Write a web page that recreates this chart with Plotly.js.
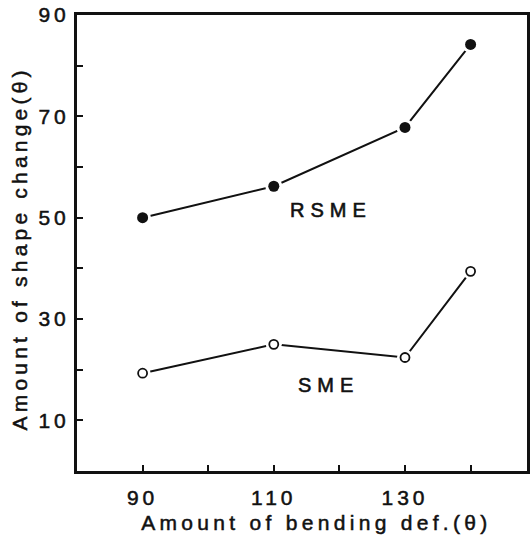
<!DOCTYPE html>
<html>
<head>
<meta charset="utf-8">
<script src="https://cdn.plot.ly/plotly-3.0.1.min.js"></script>
<style>
  html, body { margin: 0; padding: 0; background: #fff; }
  #chart { width: 532px; height: 541px; }
  .xtick text, .ytick text { letter-spacing: 4px; stroke: #111; stroke-width: 0.5px; }
  .annotation-text { stroke: #111; stroke-width: 0.5px; }
  .annotation[data-index="0"] .annotation-text, .annotation[data-index="1"] .annotation-text { letter-spacing: 6px; stroke-width: 0.6px; }
  .annotation[data-index="2"] .annotation-text { letter-spacing: 4.3px; }
  .annotation[data-index="3"] .annotation-text { letter-spacing: 4.2px; }
</style>
</head>
<body>
<div id="chart"></div>
<script>
// Data
const bendingDef = [90, 110, 130, 140];
const rsmeValues = [50, 56.2, 67.8, 84.2];
const smeValues  = [19.3, 25, 22.4, 39.4];

const xTickVals = [90, 100, 110, 120, 130, 140];
const xTickText = ['90', '', '110', '', '130', ''];
const yTickVals = [10, 20, 30, 40, 50, 60, 70, 80, 90];
const yTickText = ['10', '', '30', '', '50', '', '70', '', '90'];

const seriesLabels = ['RSME', 'SME'];
const xTitle = 'Amount of bending def.(θ)';
const yTitle = 'Amount of shape change(θ)';

const ink = '#111';
const fontFam = 'Liberation Sans, Arial, sans-serif';

const traces = [
  // connecting lines
  { x: bendingDef, y: rsmeValues, mode: 'lines', line: { color: ink, width: 2 }, hoverinfo: 'skip', showlegend: false },
  { x: bendingDef, y: smeValues, mode: 'lines', line: { color: ink, width: 2 }, hoverinfo: 'skip', showlegend: false },
  // white masks giving the gap between lines and markers
  { x: bendingDef, y: rsmeValues, mode: 'markers', marker: { symbol: 'circle', size: 17, color: '#fff' }, hoverinfo: 'skip', showlegend: false },
  { x: bendingDef, y: smeValues, mode: 'markers', marker: { symbol: 'circle', size: 16, color: '#fff' }, hoverinfo: 'skip', showlegend: false },
  // actual markers
  { x: bendingDef, y: rsmeValues, mode: 'markers', name: seriesLabels[0],
    marker: { symbol: 'circle', size: 11, color: ink } , showlegend: false },
  { x: bendingDef, y: smeValues, mode: 'markers', name: seriesLabels[1],
    marker: { symbol: 'circle-open', size: 9, color: ink, line: { width: 1.8, color: ink } }, showlegend: false }
];

const layout = {
  width: 532, height: 541,
  margin: { l: 77, r: 5, t: 15, b: 70 },
  paper_bgcolor: '#fff', plot_bgcolor: '#fff',
  font: { family: fontFam, color: ink, size: 21 },
  showlegend: false,
  xaxis: {
    range: [80, 148.6],
    tickvals: xTickVals, ticktext: xTickText,
    ticks: 'inside', ticklen: 6, tickwidth: 2, tickcolor: ink,
    showline: true, linewidth: 3, linecolor: ink, mirror: true,
    showgrid: false, zeroline: false,
    tickfont: { size: 21 },
    ticklabelstandoff: 6
  },
  yaxis: {
    range: [0, 90],
    tickvals: yTickVals, ticktext: yTickText,
    ticks: 'inside', ticklen: 6, tickwidth: 2, tickcolor: ink,
    showline: true, linewidth: 3, linecolor: ink, mirror: true,
    showgrid: false, zeroline: false,
    tickfont: { size: 21 },
    ticklabelstandoff: 0
  },
  annotations: [
    { x: 118.7, y: 51.5, xref: 'x', yref: 'y', text: seriesLabels[0], showarrow: false,
      font: { size: 20, family: fontFam } },
    { x: 118.3, y: 17.0, xref: 'x', yref: 'y', text: seriesLabels[1], showarrow: false,
      font: { size: 20, family: fontFam } },
    { x: 0.533, y: -0.112, xref: 'paper', yref: 'paper', xanchor: 'center', yanchor: 'middle',
      text: xTitle, showarrow: false, font: { size: 21, family: fontFam } },
    { x: -0.129, y: 0.489, xref: 'paper', yref: 'paper', xanchor: 'center', yanchor: 'middle',
      textangle: -90, text: yTitle, showarrow: false, font: { size: 21, family: fontFam } }
  ]
};

Plotly.newPlot('chart', traces, layout, { displayModeBar: false, staticPlot: true });
</script>
</body>
</html>
